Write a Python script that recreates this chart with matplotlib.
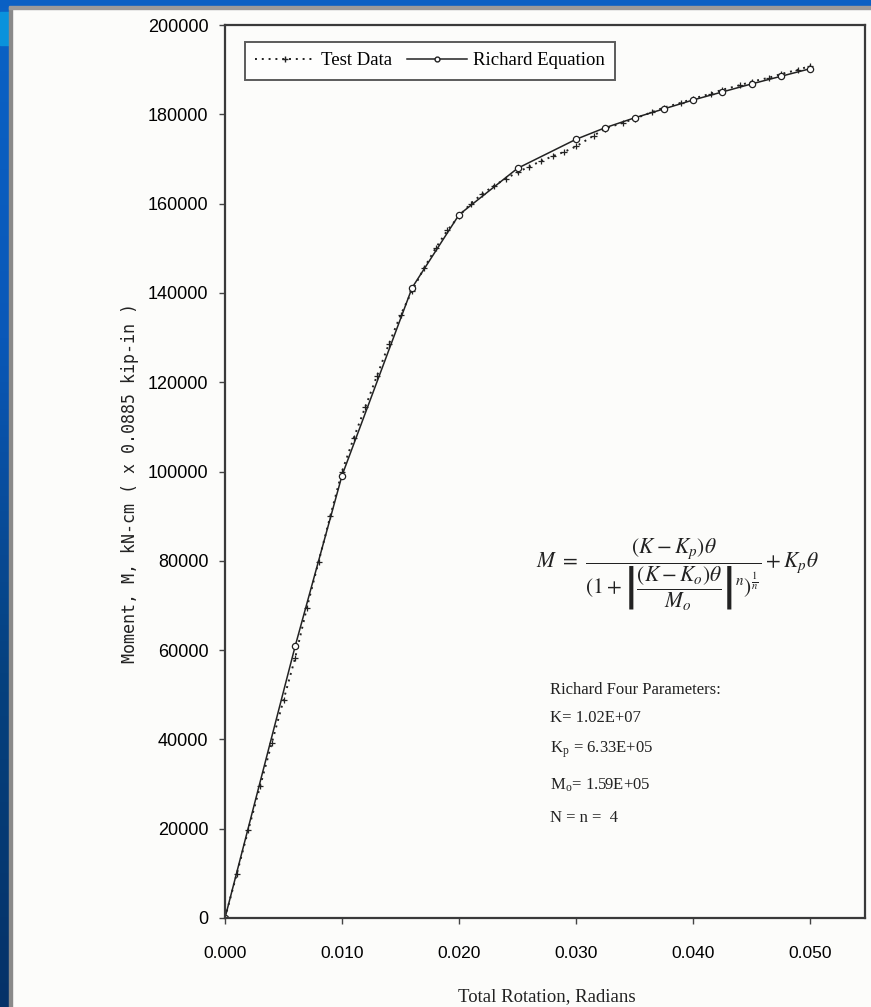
import numpy as np
import matplotlib
matplotlib.use("Agg")
import matplotlib.pyplot as plt
from matplotlib.patches import Rectangle
from matplotlib.lines import Line2D

# Richard equation, points marked on the fitted curve
rich_rot = [0.000, 0.006, 0.010, 0.016, 0.020, 0.025, 0.030, 0.0325, 0.035,
            0.0375, 0.040, 0.0425, 0.045, 0.0475, 0.050]
rich_mom = [0, 60900, 99100, 141200, 157500, 167900, 174400, 177000, 179200,
            181200, 183200, 185000, 186800, 188500, 190200]

# measured moment-rotation test data
test_rot = [0.000, 0.001, 0.002, 0.003, 0.004, 0.005, 0.006, 0.007, 0.008, 0.009,
            0.010, 0.011, 0.012, 0.013, 0.014, 0.015, 0.016, 0.017, 0.018, 0.019,
            0.020, 0.021, 0.022, 0.023, 0.024, 0.025, 0.026, 0.027, 0.028, 0.029,
            0.030, 0.0315, 0.0325, 0.034, 0.035, 0.0365, 0.0375, 0.039, 0.040,
            0.0415, 0.0425, 0.044, 0.045, 0.0465, 0.0475, 0.049, 0.050]
test_mom = [0, 9800, 19800, 29500, 39200, 48800, 58300, 69500, 79800, 90000,
            100000, 107500, 114500, 121500, 128500, 135000, 140500, 145500, 150000, 154000,
            157200, 160000, 162200, 164000, 165600, 167000, 168300, 169500, 170600, 171600,
            172800, 175200, 176800, 178100, 179000, 180500, 181500, 182600, 183500,
            184600, 185500, 186500, 187300, 188200, 189000, 190000, 190800]

x_ticks = [0.000, 0.010, 0.020, 0.030, 0.040, 0.050]
y_ticks = list(range(0, 200001, 20000))

plt.rcParams["mathtext.fontset"] = "stix"
SERIF = "Liberation Serif"
SANS = "Liberation Sans"
INK = "#222222"

W, H = 871, 1007
fig = plt.figure(figsize=(W / 100, H / 100), dpi=100, facecolor="#fcfcfa")

# blue slide frame: left strip (gradient) and top bar
strip = fig.add_axes([0, 0, 9 / W, 1])
grad = np.linspace(0, 1, 256).reshape(-1, 1)
cmap = matplotlib.colors.LinearSegmentedColormap.from_list(
    "band", ["#0a62c6", "#0a58b8", "#06417f", "#053268"])
strip.imshow(grad, aspect="auto", cmap=cmap, extent=[0, 1, 0, 1])
strip.add_patch(Rectangle((0, 1 - 45 / H), 1, 33 / H, color="#0a92dc"))
strip.set_xlim(0, 1); strip.set_ylim(0, 1)
strip.axis("off")
fig.patches.append(Rectangle((9 / W, 0), 3 / W, 1 - 6 / H, transform=fig.transFigure,
                             color="#8a8a8a", zorder=0))
fig.patches.append(Rectangle((0, 1 - 6 / H), 1, 6 / H, transform=fig.transFigure,
                             color="#0a60c4", zorder=3))
fig.patches.append(Rectangle((9 / W, 1 - 9 / H), 1, 3 / H, transform=fig.transFigure,
                             color="#9a9a9a", zorder=3))

ax = fig.add_axes([225 / W, 1 - 918 / H, 640 / W, 893 / H])
ax.set_facecolor("none")

ax.plot(test_rot, test_mom, linestyle=(0, (1, 2.5)), color=INK, lw=1.4,
        marker="+", ms=5, mew=0.9, label="Test Data")
ax.plot(rich_rot, rich_mom, "-", color=INK, lw=1.1, marker="o", ms=4.5,
        mfc="white", mec=INK, mew=0.9, label="Richard Equation")

ax.set_xlim(0, 0.0547)
ax.set_ylim(0, 200000)
ax.set_xticks(x_ticks)
ax.set_xticklabels([f"{v:.3f}" for v in x_ticks], family=SANS, fontsize=12.5)
ax.set_yticks(y_ticks)
ax.set_yticklabels([str(v) for v in y_ticks], family=SANS, fontsize=13)
ax.tick_params(direction="out", length=4, width=1, color="#444444", pad=8)
ax.tick_params(axis="x", pad=16)
for s in ax.spines.values():
    s.set_linewidth(1.6)
    s.set_color("#3a3a3a")

handles = [Line2D([], [], linestyle=(0, (1, 2.5)), color=INK, lw=1.4, marker="+", ms=5),
           Line2D([], [], color=INK, lw=1.1, marker="o", ms=3.5, mfc="white", mec=INK)]
leg = ax.legend(handles, ["Test Data", "Richard Equation"], ncol=2, loc="upper left",
                bbox_to_anchor=(20 / 640, 1 - 17 / 893), borderaxespad=0, fancybox=False,
                frameon=True, edgecolor="#333333", handlelength=3.2, columnspacing=0.8,
                handletextpad=0.3, borderpad=0.55, prop={"family": SERIF, "size": 13.5})
leg.get_frame().set_linewidth(1.4)

fig.text(547 / W, 1 - 997 / H, "Total Rotation, Radians", ha="center", va="center",
         family=SERIF, fontsize=13.5, color=INK)
fig.text(130 / W, 1 - 483 / H, "Moment, M, kN-cm ( x 0.0885 kip-in )", rotation=90,
         ha="center", va="center", family="DejaVu Sans Mono", fontsize=12, color=INK)

# Richard four-parameter equation
ax.text((536 - 225) / 640, (918 - 575) / 893,
        r"$M\ =\ \dfrac{(K-K_p)\theta}{(1+\left|\dfrac{(K-K_o)\theta}{M_o}\right|^n)^{\frac{1}{n}}}+K_p\theta$",
        transform=ax.transAxes, ha="left", va="center", fontsize=15.5, color=INK)

params = ["Richard Four Parameters:", "K= 1.02E+07", r"K$_\mathregular{p}$ = 6.33E+05",
          r"M$_\mathregular{o}$= 1.59E+05", "N = n =  4"]
rows_y = [690, 718, 750, 785, 818]
for txt, py in zip(params, rows_y):
    ax.text((550 - 225) / 640, (918 - py) / 893, txt, transform=ax.transAxes,
            ha="left", va="center", family=SERIF, fontsize=12, color=INK)

fig.savefig("out.png", dpi=100, facecolor=fig.get_facecolor())
